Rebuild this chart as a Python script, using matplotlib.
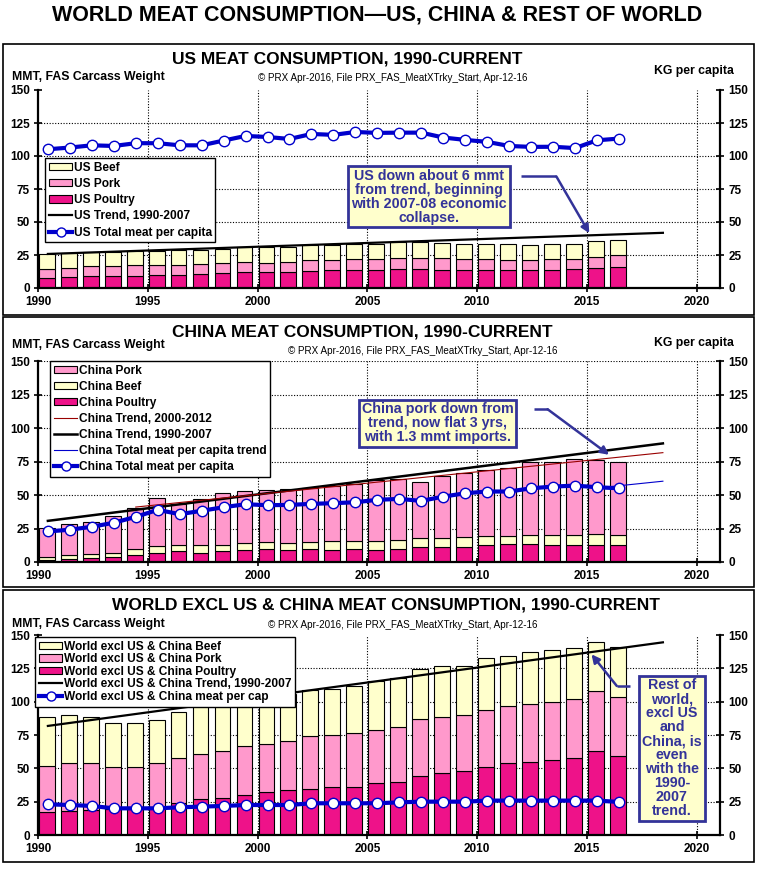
"""
World meat consumption: US, China and rest of world, 1990-current.
Produces: out.png
"""
import numpy as np
import matplotlib
matplotlib.use('Agg')
import matplotlib.pyplot as plt
from matplotlib.patches import Patch, Rectangle
from matplotlib.lines import Line2D

plt.rcParams['font.family'] = ['Liberation Sans', 'DejaVu Sans']

W, H = 760, 871

YEARS = list(range(1990, 2017))

# ── US (MMT) ────────────────────────────────────────────────────────────────
us_poultry = [7.3, 8.2, 9.0, 9.0, 9.4, 9.8, 10.0, 10.6, 11.0, 11.8, 12.2, 12.4, 12.8, 13.5,
              13.8, 14.0, 14.4, 14.2, 14.0, 13.4, 13.8, 13.9, 13.9, 14.0, 14.6, 15.4, 15.8]
us_pork = [7.2, 7.3, 7.5, 7.8, 8.0, 7.5, 7.3, 7.6, 8.0, 7.8, 7.0, 7.3, 8.2, 8.0,
           7.9, 8.2, 8.1, 8.4, 8.6, 8.7, 7.8, 7.6, 7.6, 7.6, 7.5, 8.2, 9.2]
us_beef = [11.2, 10.8, 10.5, 10.7, 10.4, 11.0, 11.2, 10.8, 10.7, 11.5, 11.9, 11.4, 11.4, 11.4,
           11.7, 11.5, 12.2, 12.6, 11.8, 11.6, 12.1, 12.2, 11.2, 11.8, 11.3, 12.1, 11.4]
us_percap = [105.1, 106.4, 108.1, 107.6, 109.7, 109.7, 108.1, 108.1, 111.7, 115.2, 114.4, 112.9,
             116.7, 116.0, 118.2, 117.5, 117.7, 117.7, 114.0, 112.2, 110.7, 107.6, 106.9, 107.0,
             106.0, 111.9, 113.2]
us_trend_x = [1990, 2018]
us_trend_y = [25.8, 41.8]

# ── China (MMT) ─────────────────────────────────────────────────────────────
cn_poultry = [1.7, 2.5, 3.0, 3.7, 5.5, 7.0, 8.4, 7.0, 8.0, 8.9, 9.7, 8.7, 9.7, 8.9,
              9.7, 9.2, 9.7, 11.2, 11.2, 11.2, 12.9, 13.4, 13.4, 12.9, 12.4, 12.9, 12.4]
cn_beef = [2.0, 2.5, 2.7, 3.3, 3.9, 5.1, 4.5, 5.4, 4.9, 5.0, 4.9, 5.2, 4.9, 6.5,
           5.7, 6.4, 6.4, 6.7, 6.7, 7.4, 6.7, 6.2, 6.9, 7.4, 7.9, 8.1, 7.9]
cn_pork = [21.6, 23.3, 24.5, 27.0, 30.8, 35.5, 30.2, 34.5, 38.4, 38.9, 39.0, 40.6, 40.9, 41.4,
           42.6, 45.6, 45.6, 41.6, 46.3, 48.1, 49.1, 50.3, 54.1, 54.6, 56.3, 55.1, 54.1]
cn_percap = [22.8, 24.1, 26.3, 29.3, 33.7, 38.9, 35.7, 38.2, 40.9, 43.1, 42.4, 42.6, 43.4, 43.9,
             44.6, 46.4, 47.1, 45.6, 48.8, 51.3, 52.6, 52.6, 55.0, 56.3, 57.0, 55.8, 55.0]
cn_trend_x = [1990, 2018]
cn_trend_y = [30.7, 88.5]
cn_trend2_x = [1994, 2018]
cn_trend2_y = [41.0, 81.6]
cn_pc_trend_x = [2015, 2018]
cn_pc_trend_y = [55.2, 60.3]

# ── World excl US & China (MMT) ─────────────────────────────────────────────
wd_poultry = [17.5, 18.2, 18.8, 19.2, 19.8, 20.8, 23.8, 27.0, 27.5, 30.2, 32.0, 33.8, 34.8, 35.8,
              36.2, 39.2, 40.0, 44.2, 46.8, 48.0, 51.0, 53.8, 55.0, 56.5, 58.0, 62.8, 59.5]
wd_pork = [34.2, 35.5, 35.0, 31.5, 31.0, 33.0, 34.0, 33.8, 35.2, 36.8, 36.2, 36.8, 39.5, 39.0,
           40.0, 39.5, 41.2, 42.5, 42.0, 42.2, 43.0, 43.0, 43.2, 43.5, 44.2, 45.5, 44.2]
wd_beef = [37.0, 36.0, 34.5, 33.0, 33.0, 32.5, 34.2, 35.8, 36.2, 34.0, 34.8, 35.5, 34.5, 35.0,
           35.8, 37.0, 36.5, 38.0, 38.2, 36.8, 38.5, 37.8, 38.8, 38.5, 38.2, 36.8, 37.2]
wd_percap = [23.0, 22.5, 21.8, 20.0, 20.0, 20.0, 20.8, 21.3, 21.8, 22.5, 22.5, 22.5, 23.8, 23.8,
             23.8, 23.8, 24.5, 25.0, 25.0, 25.0, 25.8, 25.8, 25.8, 25.8, 25.8, 25.8, 24.8]
wd_trend_x = [1990, 2018]
wd_trend_y = [81.8, 144.5]

BEEF = '#FFFFCC'
PORK = '#FF99CC'
POULTRY = '#EE1289'
BLUE = '#0000CC'
NAVY = '#333399'

BAR_OFF = 0.40
PT_OFF = 0.45
BAR_W = 0.72

SUBTITLE = '\u00a9 PRX Apr-2016, File PRX_FAS_MeatXTrky_Start, Apr-12-16'


def fx(px):
    return px / W


def fy(py):
    return 1 - py / H


def make_axes(fig, top, bottom, grid150=False):
    ax = fig.add_axes([fx(38), fy(bottom), fx(720) - fx(38), fy(top) - fy(bottom)])
    ax.set_xlim(1990, 2021.05)
    ax.set_ylim(0, 150)
    ax.set_xticks(range(1990, 2021, 5))
    ax.set_yticks(range(0, 151, 25))
    for s in ('top', 'right'):
        ax.spines[s].set_visible(False)
    for s in ('left', 'bottom'):
        ax.spines[s].set_linewidth(1.6)
    ax.tick_params(direction='inout', length=6, width=1.2, labelsize=8.5, pad=3)
    for lab in ax.get_xticklabels() + ax.get_yticklabels():
        lab.set_fontweight('bold')
    ax.set_axisbelow(True)
    for yv in range(25, 151 if grid150 else 150, 25):
        ax.axhline(yv, color='black', lw=0.8, ls=(0, (1, 1.5)), zorder=0)
    for xv in range(1995, 2021, 5):
        ax.axvline(xv, color='black', lw=0.8, ls=(0, (1, 1.5)), zorder=0)

    ax2 = ax.twinx()
    ax2.set_ylim(0, 150)
    ax2.set_yticks(range(0, 151, 25))
    for s in ('top', 'left', 'bottom'):
        ax2.spines[s].set_visible(False)
    ax2.spines['right'].set_linewidth(1.6)
    ax2.tick_params(direction='inout', length=6, width=1.2, labelsize=8.5, pad=3)
    for lab in ax2.get_yticklabels():
        lab.set_fontweight('bold')
    return ax, ax2


def stack(ax, layers):
    x = np.array(YEARS) + BAR_OFF
    bottom = np.zeros(len(YEARS))
    for vals, col in layers:
        ax.bar(x, vals, BAR_W, bottom=bottom, color=col, edgecolor='black',
               linewidth=0.8, zorder=2)
        bottom = bottom + np.array(vals)


def percap(ax2, vals):
    ax2.plot(np.array(YEARS) + PT_OFF, vals, color=BLUE, lw=3, marker='o', ms=7.5,
             mfc='white', mec=BLUE, mew=1.0, zorder=5)


def trend(ax, xs, ys, color='black', lw=1.6):
    ax.plot(np.array(xs) + PT_OFF, ys, color=color, lw=lw, zorder=3)


def note(ax, x, y, text, path, fs=10.3):
    px, py = zip(*path)
    ax.plot(px[:-1], py[:-1], color=NAVY, lw=1.8, zorder=6, solid_capstyle='butt')
    ax.annotate('', xy=path[-1], xytext=path[-2],
                arrowprops=dict(arrowstyle='-|>', color=NAVY, lw=1.8,
                                mutation_scale=12, shrinkA=0, shrinkB=0), zorder=6)
    ax.text(x, y, text, ha='center', va='center', color=NAVY, fontsize=fs,
            fontweight='bold', linespacing=1.0, zorder=7,
            bbox=dict(boxstyle='square,pad=0.2', fc=BEEF, ec=NAVY, lw=2))


def headers(fig, y_title, x_title, title, y_sub, x_sub, y_mmt, y_kg=None):
    fig.text(fx(x_title), fy(y_title), title, ha='center', va='center',
             fontsize=12.5, fontweight='bold')
    fig.text(fx(x_sub), fy(y_sub), SUBTITLE, ha='center', va='center', fontsize=7.1)
    fig.text(fx(12), fy(y_mmt), 'MMT, FAS Carcass Weight', ha='left', va='center',
             fontsize=8.8, fontweight='bold')
    if y_kg is not None:
        fig.text(fx(734), fy(y_kg), 'KG per capita', ha='right', va='center',
                 fontsize=8.8, fontweight='bold')


def legend(ax2, handles, labels, left, top, spacing):
    leg = ax2.legend(handles, labels, loc='upper left',
                     bbox_to_anchor=(fx(left), fy(top)), bbox_transform=ax2.figure.transFigure,
                     fancybox=False, framealpha=1, edgecolor='black', borderpad=0.3,
                     labelspacing=spacing, handlelength=2.0, handleheight=0.6,
                     handletextpad=0.1, borderaxespad=0,
                     prop=dict(weight='bold', size=8.6))
    leg.get_frame().set_linewidth(1.0)
    leg.set_zorder(20)


def bar_h(col):
    return Patch(facecolor=col, edgecolor='black', linewidth=0.8)


def pc_h():
    return Line2D([], [], color=BLUE, lw=3, marker='o', ms=6.5, mfc='white', mec=BLUE)


def main():
    fig = plt.figure(figsize=(W / 100, H / 100), dpi=100)
    fig.patch.set_facecolor('white')

    fig.text(fx(377), fy(15), 'WORLD MEAT CONSUMPTION\u2014US, CHINA & REST OF WORLD',
             ha='center', va='center', fontsize=15.5, fontweight='bold')

    for top, bot in ((44, 315), (317, 587), (590, 862)):
        fig.patches.append(Rectangle((fx(3), fy(bot)), fx(754) - fx(3), fy(top) - fy(bot),
                                     transform=fig.transFigure, fill=False,
                                     edgecolor='black', lw=1.2))

    # ── Panel 1: US ────────────────────────────────────────────────────────────
    ax, ax2 = make_axes(fig, 90, 288)
    stack(ax, [(us_poultry, POULTRY), (us_pork, PORK), (us_beef, BEEF)])
    trend(ax, us_trend_x, us_trend_y)
    percap(ax2, us_percap)
    headers(fig, 59, 347, 'US MEAT CONSUMPTION, 1990-CURRENT', 78, 393, 77, 71)
    legend(ax2, [bar_h(BEEF), bar_h(PORK), bar_h(POULTRY),
                 Line2D([], [], color='black', lw=1.6), pc_h()],
           ['US Beef', 'US Pork', 'US Poultry', 'US Trend, 1990-2007',
            'US Total meat per capita'], 45, 158, 0.36)
    note(ax2, 2007.8, 69.3,
         'US down about 6 mmt\nfrom trend, beginning\nwith 2007-08 economic\ncollapse.',
         [(2012.0, 84.5), (2013.6, 84.5), (2015.1, 41.5)])

    # ── Panel 2: China ─────────────────────────────────────────────────────────
    ax, ax2 = make_axes(fig, 361, 562, grid150=True)
    stack(ax, [(cn_poultry, POULTRY), (cn_beef, BEEF), (cn_pork, PORK)])
    trend(ax, cn_trend_x, cn_trend_y, lw=1.8)
    trend(ax, cn_trend2_x, cn_trend2_y, color='#990000', lw=0.8)
    ax2.plot(np.array(cn_pc_trend_x) + PT_OFF, cn_pc_trend_y, color=BLUE, lw=0.8, zorder=4)
    percap(ax2, cn_percap)
    headers(fig, 332, 362, 'CHINA MEAT CONSUMPTION, 1990-CURRENT', 351, 423, 345, 343)
    legend(ax2, [bar_h(PORK), bar_h(BEEF), bar_h(POULTRY),
                 Line2D([], [], color='#990000', lw=0.8),
                 Line2D([], [], color='black', lw=1.8),
                 Line2D([], [], color=BLUE, lw=0.8), pc_h()],
           ['China Pork', 'China Beef', 'China Poultry', 'China Trend, 2000-2012',
            'China Trend, 1990-2007', 'China Total meat per capita trend',
            'China Total meat per capita'], 50, 361, 0.34)
    note(ax2, 2008.2, 103.4,
         'China pork down from\ntrend, now flat 3 yrs,\nwith 1.3 mmt imports.',
         [(2012.6, 114.0), (2013.2, 114.0), (2016.0, 80.0)])

    # ── Panel 3: World excl US & China ─────────────────────────────────────────
    ax, ax2 = make_axes(fig, 635, 835)
    stack(ax, [(wd_poultry, POULTRY), (wd_pork, PORK), (wd_beef, BEEF)])
    trend(ax, wd_trend_x, wd_trend_y)
    percap(ax2, wd_percap)
    headers(fig, 605, 386, 'WORLD EXCL US & CHINA MEAT CONSUMPTION, 1990-CURRENT', 625, 403, 624)
    legend(ax2, [bar_h(BEEF), bar_h(PORK), bar_h(POULTRY),
                 Line2D([], [], color='black', lw=1.6), pc_h()],
           ['World excl US & China Beef', 'World excl US & China Pork',
            'World excl US & China Poultry', 'World excl US & China Trend, 1990-2007',
            'World excl US & China meat per cap'], 35, 637, 0.05)
    note(ax2, 2018.86, 64.9,
         'Rest of\nworld,\nexcl US\nand\nChina, is\neven\nwith the\n1990-\n2007\ntrend.',
         [(2016.95, 111.8), (2016.35, 111.8), (2015.2, 135.5)])

    fig.savefig('out.png', dpi=100, facecolor='white')
    plt.close(fig)


if __name__ == '__main__':
    main()
